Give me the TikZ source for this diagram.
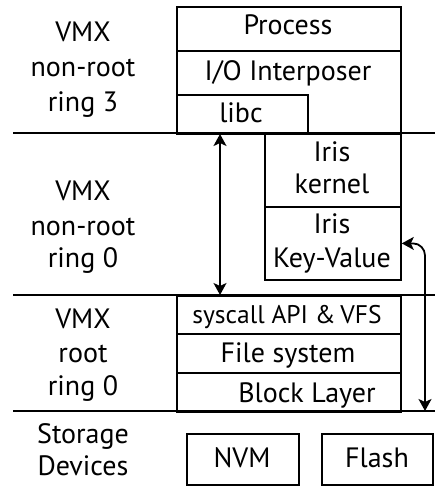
\documentclass[tikz,border=0pt]{standalone}
\usepackage{fontspec}
\setmainfont{PT Sans}
\usetikzlibrary{arrows.meta}
\begin{document}
\begin{tikzpicture}[x=1pt,y=-1pt, line width=1.8pt,
  box/.style={draw, rectangle, inner sep=0pt, anchor=north west},
  txt/.style={font=\fontsize{28}{34}\selectfont, inner sep=0pt, anchor=base},
  arr/.style={{Stealth[length=12pt,width=13pt,inset=3pt]}-{Stealth[length=12pt,width=13pt,inset=3pt]}}]
\useasboundingbox (0,0) rectangle (435,487);
% ring boundaries
\coordinate (L1) at (13,133); \coordinate (R1) at (435,133);
\coordinate (L2) at (13,295); \coordinate (R2) at (435,295);
\coordinate (L3) at (13,411); \coordinate (R3) at (435,411);
\draw (L1) -- (R1);
\draw (L2) -- (R2);
\draw (L3) -- (R3);
% boxes
\node[box, minimum width=224pt, minimum height=44pt] (proc) at (176,6) {};
\node[box, minimum width=224pt, minimum height=83pt] (io) at (176,50) {};
\node[box, minimum width=131pt, minimum height=39pt] (libc) at (176,94) {};
\node[box, minimum width=136pt, minimum height=73pt] (kern) at (264,133) {};
\node[box, minimum width=136pt, minimum height=73pt] (kv) at (264,206) {};
\node[box, minimum width=224pt, minimum height=38pt] (sys) at (176,295) {};
\node[box, minimum width=224pt, minimum height=39pt] (fs) at (176,333) {};
\node[box, minimum width=224pt, minimum height=39pt] (blk) at (176,372) {};
\node[box, minimum width=112pt, minimum height=51pt] (nvm) at (186,433) {};
\node[box, minimum width=111pt, minimum height=51pt] (flash) at (321,433) {};
% box texts
\node[txt] (tproc) at (288,35) {Process};
\node[txt] (tio) at (288,81) {I/O Interposer};
\node[txt] (tlibc) at (241,122) {libc};
\node[txt] (tk1) at (332,161) {Iris};
\node[txt] (tk2) at (332,193) {kernel};
\node[txt] (tv1) at (332,233) {Iris};
\node[txt] (tv2) at (332,267) {Key-Value};
\node[txt, font=\fontsize{25.5}{34}\selectfont] (tsys) at (287,323) {syscall API \&\hspace{-2pt} VFS};
\node[txt] (tfs) at (288,362) {File system};
\node[txt] (tblk) at (307,402) {Block Layer};
\node[txt] (tnvm) at (242,467) {NVM};
\node[txt] (tflash) at (377,467) {Flash};
% left labels
\node[txt] (a1) at (83,42) {VMX};
\node[txt] (a2) at (83,77) {non-root};
\node[txt] (a3) at (83,111) {ring 3};
\node[txt] (b1) at (83,200) {VMX};
\node[txt] (b2) at (83,235) {non-root};
\node[txt] (b3) at (83,267) {ring 0};
\node[txt] (c1) at (83,328) {VMX};
\node[txt] (c2) at (83,362) {root};
\node[txt] (c3) at (83,395) {ring 0};
\node[txt] (d1) at (83,443) {Storage};
\node[txt] (d2) at (83,475) {Devices};
% arrows
\coordinate (u1) at (220,134);
\coordinate (u2) at (220,295);
\draw[arr] (u1) -- (u2);
\coordinate (w1) at (425,411);
\draw[arr, rounded corners=12pt] (kv.east) -| (w1);
\end{tikzpicture}
\end{document}
